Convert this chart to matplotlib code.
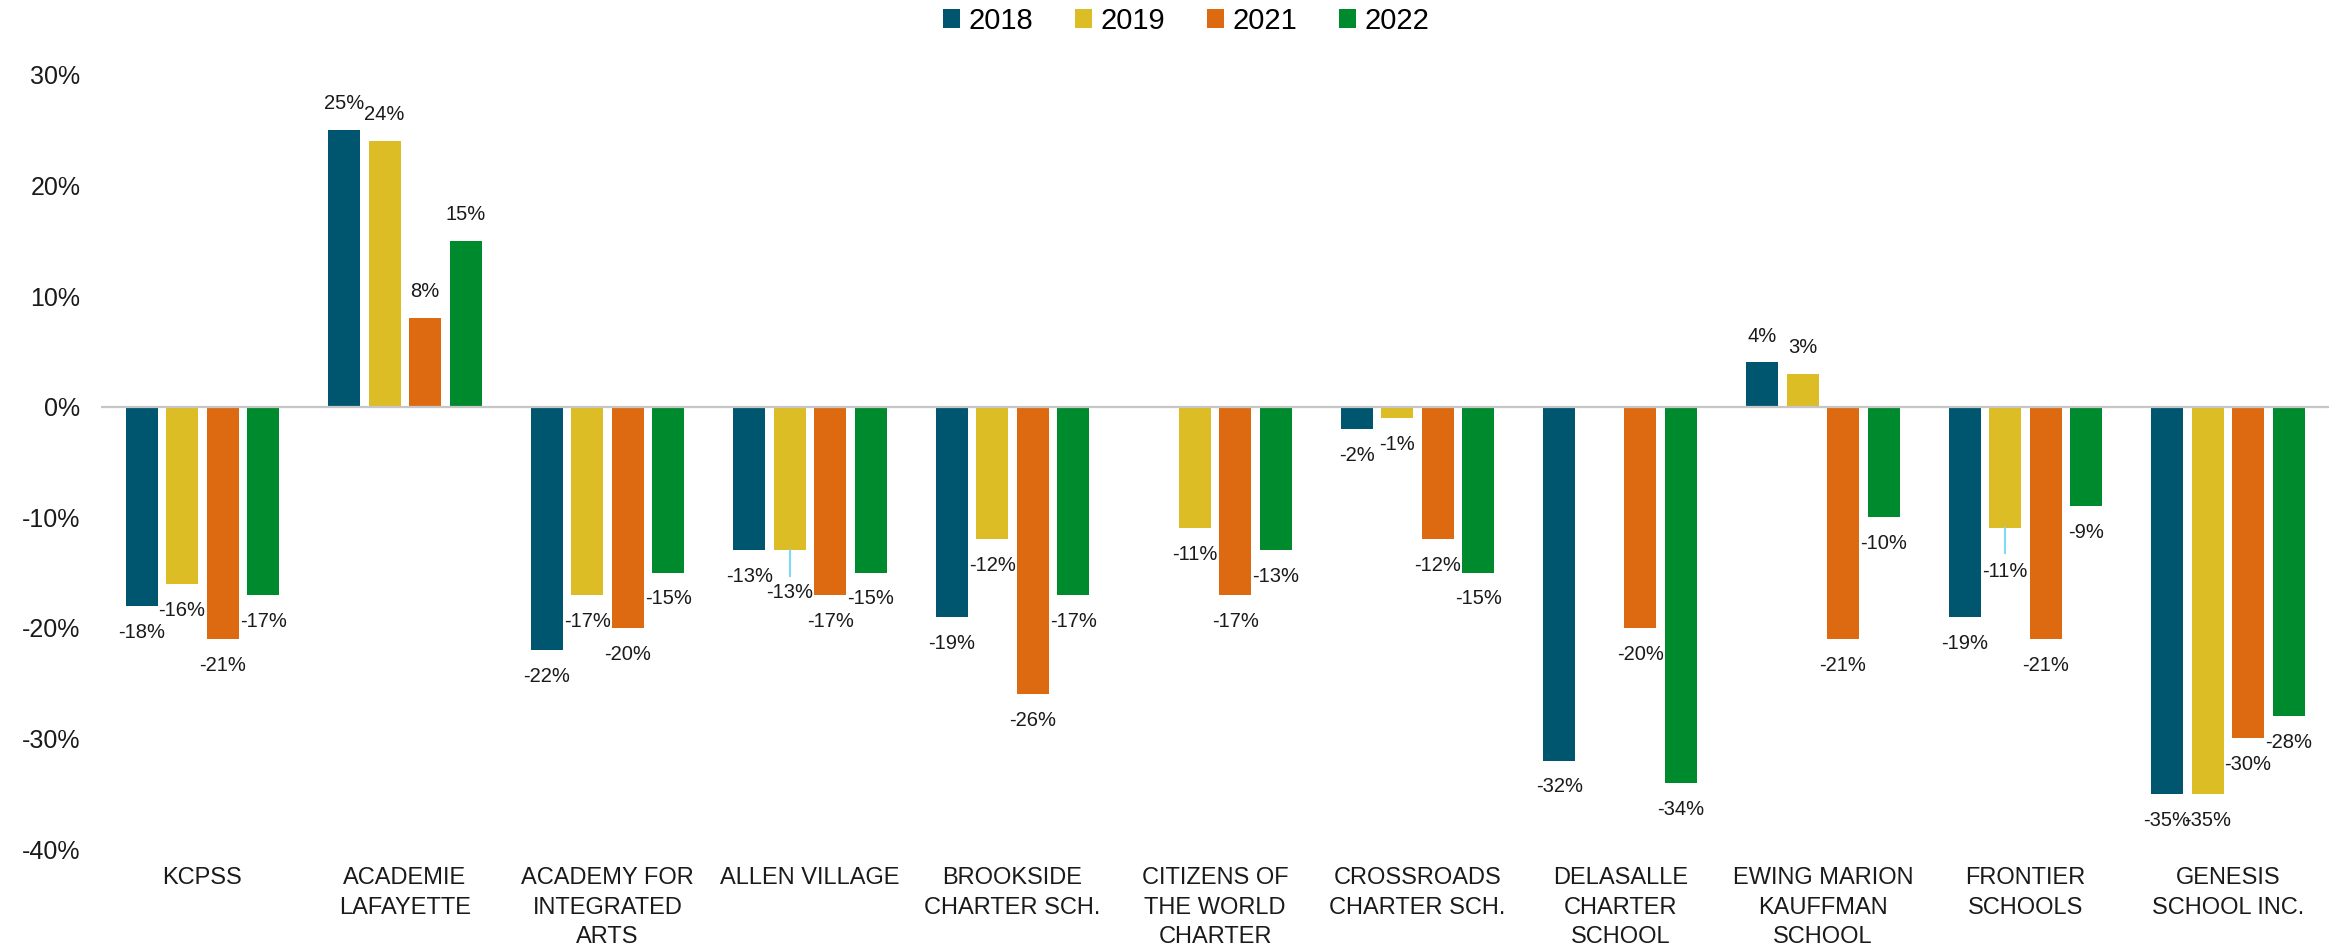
import matplotlib
matplotlib.use('Agg')
import matplotlib.pyplot as plt
from matplotlib.patches import Patch
import numpy as np

plt.rcParams['font.family'] = ['Liberation Sans', 'DejaVu Sans']

# ---------------- DATA ----------------
SCHOOLS = ['KCPSS', 'ACADEMIE\nLAFAYETTE', 'ACADEMY FOR\nINTEGRATED\nARTS', 'ALLEN VILLAGE',
           'BROOKSIDE\nCHARTER SCH.', 'CITIZENS OF\nTHE WORLD\nCHARTER', 'CROSSROADS\nCHARTER SCH.',
           'DELASALLE\nCHARTER\nSCHOOL', 'EWING MARION\nKAUFFMAN\nSCHOOL', 'FRONTIER\nSCHOOLS',
           'GENESIS\nSCHOOL INC.']
YEARS = ['2018', '2019', '2021', '2022']
V2018 = [-18, 25, -22, -13, -19, None, -2, -32, 4, -19, -35]
V2019 = [-16, 24, -17, -13, -12, -11, -1, None, 3, -11, -35]
V2021 = [-21, 8, -20, -17, -26, -17, -12, -20, -21, -21, -30]
V2022 = [-17, 15, -15, -15, -17, -13, -15, -34, -10, -9, -28]
YTICKS = [30, 20, 10, 0, -10, -20, -30, -40]

# labels moved by hand in the original (series index, school index) -> label y, leader end
MOVED = {(1, 3): -16.8, (1, 9): -14.9}
LEADERS = {(1, 3): -15.3, (1, 9): -13.2}

COLORS = ['#01566F', '#DCBD26', '#DD6A11', '#008A2E']

SERIES = [V2018, V2019, V2021, V2022]

fig = plt.figure(figsize=(23.51, 9.48), dpi=100)
ax = fig.add_axes([0.043, 0.1044, 0.9477, 0.8165])

x = np.arange(len(SCHOOLS))
offs = [-0.3, -0.1, 0.1, 0.3]
W = 0.158
for i, vals in enumerate(SERIES):
    for j, v in enumerate(vals):
        if v is None:
            continue
        xp = x[j] + offs[i]
        ax.bar(xp, v, width=W, color=COLORS[i], zorder=2)
        if (i, j) in MOVED:
            ax.text(xp, MOVED[(i, j)], '%d%%' % v, ha='center', va='center', fontsize=14.5, color='#1a1a1a')
            ax.plot([xp, xp], [v, LEADERS[(i, j)]], color='#7FD9F2', lw=1.5, zorder=3)
        else:
            dy = 19 if v > 0 else -19
            ax.annotate('%d%%' % v, (xp, v), xytext=(0, dy), textcoords='offset points',
                        ha='center', va='center', fontsize=14.5, color='#1a1a1a')

ax.axhline(0, color='#C6C6C6', lw=1.6, zorder=3)
ax.set_xlim(-0.5, len(SCHOOLS) - 0.5)
ax.set_ylim(-40, 30)
ax.set_yticks(YTICKS)
ax.set_yticklabels(['%d%%' % t for t in YTICKS], fontsize=18, color='#1a1a1a')
ax.set_xticks(x)
ax.set_xticklabels(SCHOOLS, fontsize=17, color='#1a1a1a', linespacing=1.45, va='top')
ax.tick_params(axis='both', length=0)
ax.tick_params(axis='y', pad=15)
ax.tick_params(axis='x', pad=13)
for s in ax.spines.values():
    s.set_visible(False)

handles = [Patch(facecolor=c, label=y) for c, y in zip(COLORS, YEARS)]
fig.legend(handles=handles, loc='center', bbox_to_anchor=(0.5045, 0.978), ncol=4, frameon=False,
           fontsize=21, handlelength=0.58, handleheight=0.58, handletextpad=0.28, columnspacing=1.45)

fig.savefig('out.png', dpi=100)
